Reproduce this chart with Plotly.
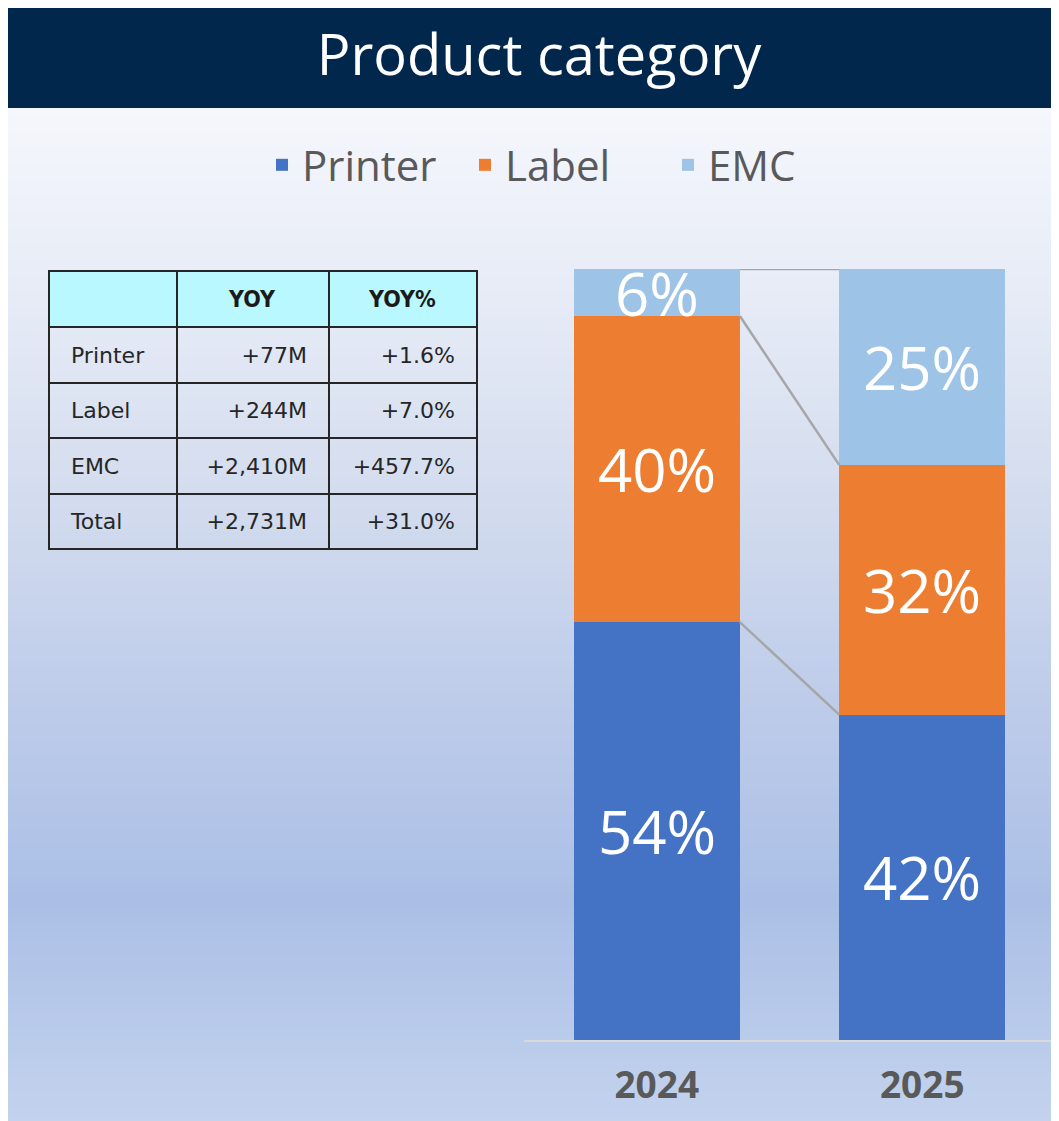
import plotly.graph_objects as go

# ---------------- data ----------------
years = ["2024", "2025"]
series_names = ["Printer", "Label", "EMC"]
printer_share = [54.2, 42.2]
label_share = [39.7, 32.4]
emc_share = [6.1, 25.4]

table_rows = ["Printer", "Label", "EMC", "Total"]
table_yoy = ["+77M", "+244M", "+2,410M", "+2,731M"]
table_yoy_pct = ["+1.6%", "+7.0%", "+457.7%", "+31.0%"]
table_header = ["", "YOY", "YOY%"]

# ---------------- style ----------------
OFF = 8                     # page body margin
W, H = 1059 - OFF, 1121 - OFF
colors = {"Printer": "#4472C4", "Label": "#ED7D31", "EMC": "#9DC3E6"}
BAR_W = 0.626

def px_x(v):               # page pixel -> paper fraction
    return (v - OFF) / W

def px_y(v):
    return 1 - (v - OFF) / H

fig = go.Figure()

shares = {"Printer": printer_share, "Label": label_share, "EMC": emc_share}
xpos = list(range(len(years)))

for name in series_names:
    fig.add_trace(go.Bar(
        x=xpos, y=shares[name], name=name,
        marker=dict(color=colors[name], line=dict(width=0)),
        width=BAR_W, hoverinfo="skip",
    ))

# cumulative tops for connectors and label positions
cum = {}
running = [0.0] * len(years)
for name in series_names:
    base = list(running)
    running = [r + v for r, v in zip(running, shares[name])]
    cum[name] = (base, list(running))

for name in series_names:
    tops = cum[name][1]
    fig.add_trace(go.Scatter(
        x=[xpos[0] + BAR_W / 2, xpos[1] - BAR_W / 2], y=[tops[0], tops[1]],
        mode="lines", line=dict(color="#a6a6a6", width=2.5),
        showlegend=False, hoverinfo="skip", cliponaxis=False,
    ))

annotations = []
for name in series_names:
    base, top = cum[name]
    for i, v in enumerate(shares[name]):
        annotations.append(dict(
            x=xpos[i], y=base[i] + v / 2, xref="x", yref="y",
            text=f"{round(v)}%", showarrow=False,
            font=dict(family="Open Sans", size=60, color="white"),
            yanchor="middle", xanchor="center",
        ))

# ---------------- table ----------------
pad_l = "\u00a0\u00a0"
pad_r = "\u00a0\u00a0"
col_w = [128, 152, 148]
hdr_font = dict(family="Liberation Sans Narrow, DejaVu Sans Condensed, Arial", size=23, color="#1a1a1a")
cell_font = dict(family="DejaVu Sans", size=22, color="#262626")
cell_vals = [[pad_l + r for r in table_rows],
             [v + pad_r for v in table_yoy],
             [v + pad_r for v in table_yoy_pct]]

# grid + fills (no text)
fig.add_trace(go.Table(
    domain=dict(x=[px_x(49), px_x(477)], y=[0, px_y(271)]),
    columnwidth=col_w,
    header=dict(values=["", "", ""], fill_color="#B9F8FE",
                line=dict(color="#262626", width=2), height=56, font=hdr_font),
    cells=dict(values=[[""] * len(table_rows)] * 3, fill_color="rgba(0,0,0,0)",
               line=dict(color="#262626", width=2), height=55.5, font=cell_font),
))
# text layer, nudged down so text sits vertically centred in the cells
fig.add_trace(go.Table(
    domain=dict(x=[px_x(49), px_x(477)], y=[0, px_y(271 + 7)]),
    columnwidth=col_w,
    header=dict(values=[f"<b>{h}</b>" for h in table_header],
                fill_color="rgba(0,0,0,0)", line=dict(color="rgba(0,0,0,0)", width=0),
                align="center", height=60, font=hdr_font),
    cells=dict(values=cell_vals, fill_color="rgba(0,0,0,0)",
               line=dict(color="rgba(0,0,0,0)", width=0),
               align=["left", "right", "right"], height=55.5, font=cell_font),
))

# ---------------- background ----------------
stops = [(108, (245, 247, 252)), (300, (230, 235, 246)), (500, (211, 220, 238)),
         (700, (190, 204, 234)), (900, (171, 191, 230)), (1121, (195, 211, 238))]
shapes = []
step = 8
y = 108
while y < 1121:
    y2 = min(y + step, 1121)
    ym = (y + y2) / 2
    for (a, ca), (b, cb) in zip(stops[:-1], stops[1:]):
        if a <= ym <= b:
            t = (ym - a) / (b - a)
            c = tuple(round(ca[k] + (cb[k] - ca[k]) * t) for k in range(3))
            break
    shapes.append(dict(type="rect", xref="paper", yref="paper", layer="below",
                       x0=0, x1=1, y0=px_y(y2 + 0.5), y1=px_y(y),
                       fillcolor=f"rgb{c}", line=dict(width=0)))
    y = y2
shapes.append(dict(type="rect", xref="paper", yref="paper", layer="below",
                   x0=0, x1=1, y0=px_y(108), y1=1,
                   fillcolor="#01274C", line=dict(width=0)))

fig.update_layout(
    width=W, height=H,
    margin=dict(l=0, r=0, t=0, b=0),
    paper_bgcolor="white", plot_bgcolor="rgba(0,0,0,0)",
    barmode="stack", bargap=0,
    title=dict(text="Product category", x=px_x(539), xanchor="center",
               y=px_y(55), yanchor="middle", yref="container",
               font=dict(family="Open Sans", size=56, color="white")),
    showlegend=True,
    legend=dict(orientation="h", x=px_x(262), xanchor="left", y=px_y(165), yanchor="middle",
                font=dict(family="Open Sans", size=42, color="#595959"),
                bgcolor="rgba(0,0,0,0)", itemwidth=30, traceorder="normal",
                entrywidth=158, entrywidthmode="pixels"),
    xaxis=dict(domain=[px_x(524), px_x(1055)], range=[-0.5, 1.5],
               tickvals=xpos, ticktext=years, showgrid=False, zeroline=False,
               showline=True, linecolor="#d9d9d9", linewidth=2,
               ticks="", ticklabelstandoff=12,
               tickfont=dict(family="Open Sans", size=37, color="#595959", weight="bold"),
               fixedrange=True),
    yaxis=dict(domain=[px_y(1040), px_y(269)], range=[0, 100], visible=False,
               showgrid=False, zeroline=False, fixedrange=True),
    shapes=shapes,
    annotations=annotations,
)

fig.write_html("out.html")
